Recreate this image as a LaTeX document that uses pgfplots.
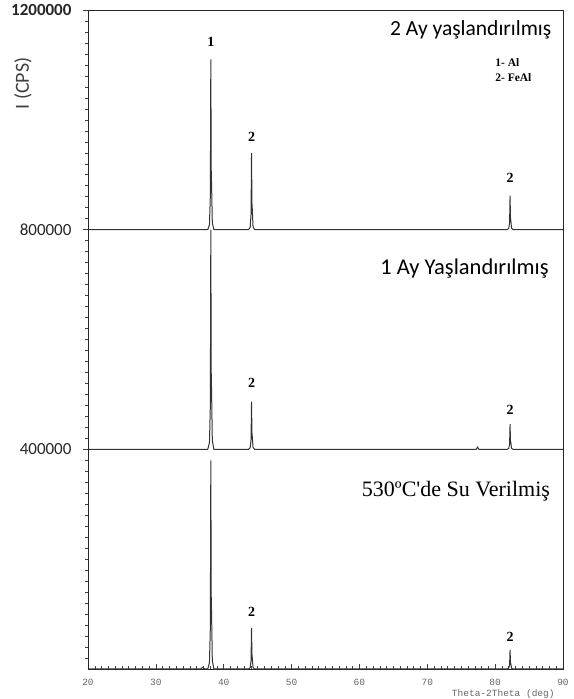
\documentclass[border=0pt]{standalone}
\usepackage{fontspec}
\setmainfont{Carlito}
\newfontfamily\serif{Liberation Serif}
\newfontfamily\mono{Liberation Mono}
\usepackage{pgfplots}
\pgfplotsset{compat=1.18}
\begin{document}
\begin{tikzpicture}
\begin{axis}[name=ax, scale only axis, width=475pt, height=659pt,
  xmin=20, xmax=90, ymin=0, ymax=1200000, clip=false,
  axis line style={black!85, line width=0.8pt},
  xtick={20,30,...,90}, xticklabels={20,30,40,50,60,70,80,90},
  minor x tick num=9,
  ytick={400000,800000,1200000}, yticklabels={400000,800000,\raisebox{-2pt}{\bfseries 1200000}},
  minor ytick={20000,40000,...,1180000},
  tick align=outside, major tick length=5pt, minor tick length=2.5pt,
  major x tick style={yshift=5pt}, minor x tick style={yshift=2.5pt},
  xtick pos=bottom, ytick pos=left,
  x tick label style={font=\mono\fontsize{9.5}{9.5}\selectfont, text=black!60, yshift=-2pt},
  y tick label style={font=\fontsize{17}{17}\selectfont, text=black!85, xshift=-8pt, inner ysep=0.5pt},
  every tick/.style={black!75, line width=0.5pt},
]
% top trace: 2 Ay
\addplot[black!80, line width=1pt] coordinates {
(20,800000) (37.65,800000) (37.9,809300) (38.03,862000) (38.1,1110000) (38.16,908500) (38.22,877500) (38.32,812400) (38.55,800000)
(43.65,800000) (43.9,804200) (44.03,828000) (44.1,940000) (44.16,849000) (44.22,835000) (44.32,805600) (44.55,800000)
(81.75,800000) (82.0,801900) (82.13,812400) (82.2,862000) (82.26,821700) (82.32,815500) (82.42,802500) (82.65,800000) (90,800000)};
% middle trace: 1 Ay
\addplot[black!80, line width=1pt] coordinates {
(20,400000) (37.65,400000) (37.9,412000) (38.03,480000) (38.1,800000) (38.16,540000) (38.22,500000) (38.32,416000) (38.55,400000)
(43.65,400000) (43.9,402600) (44.03,417400) (44.1,487000) (44.16,430500) (44.22,421800) (44.32,403500) (44.55,400000)
(77.2,400000) (77.4,404000) (77.6,400000)
(81.75,400000) (82.0,401400) (82.13,409200) (82.2,446000) (82.26,416100) (82.32,411500) (82.42,401800) (82.65,400000) (90,400000)};
% bottom trace: 530 C
\addplot[black!80, line width=1pt] coordinates {
(20,0) (36.6,0) (36.9,3000) (37.2,0)
(37.65,0) (37.9,11400) (38.03,76000) (38.1,380000) (38.16,133000) (38.22,95000) (38.32,15200) (38.55,0)
(43.65,0) (43.9,2250) (44.03,15000) (44.1,75000) (44.16,26250) (44.22,18750) (44.32,3000) (44.55,0)
(81.75,0) (82.0,1050) (82.13,7000) (82.2,35000) (82.26,12250) (82.32,8750) (82.42,1400) (82.65,0) (90,0)};
% peak labels
\begin{scope}[every node/.style={font=\serif\bfseries\fontsize{14}{14}\selectfont}]
\node at (axis cs:38.1,1142000) {1};
\node at (axis cs:44.1,969000) {2};
\node at (axis cs:82.2,894000) {2};
\node at (axis cs:44.1,521000) {2};
\node at (axis cs:82.2,472000) {2};
\node at (axis cs:44.1,104000) {2};
\node at (axis cs:82.2,58000) {2};
\end{scope}
\node[anchor=east, font=\fontsize{21.5}{21.5}\selectfont] at (axis cs:88.8,1164000) {2 Ay yaşlandırılmış};
\node[anchor=east, font=\fontsize{22.5}{22.5}\selectfont] at (axis cs:88.4,730000) {1 Ay Yaşlandırılmış};
\node[anchor=east, font=\serif\fontsize{22}{22}\selectfont] at (axis cs:88.6,324000) {530ºC'de Su Verilmiş};
\node[anchor=west, align=left, font=\serif\bfseries\fontsize{11.5}{15}\selectfont, inner sep=0pt] at (axis cs:80.0,1091000) {1- Al\\2- FeAl};
\node[rotate=90, font=\fontsize{20}{20}\selectfont, text=black!75] at (axis cs:10.4,1066000) {I (CPS)};
\node[font=\mono\fontsize{9.5}{9.5}\selectfont, text=black!60] at (axis cs:81.2,-45000) {Theta-2Theta (deg)};
\end{axis}
\pgfresetboundingbox
\path ([shift={(-88pt,-30pt)}]ax.south west) rectangle ([shift={(11pt,10pt)}]ax.north east);
\end{tikzpicture}
\end{document}
